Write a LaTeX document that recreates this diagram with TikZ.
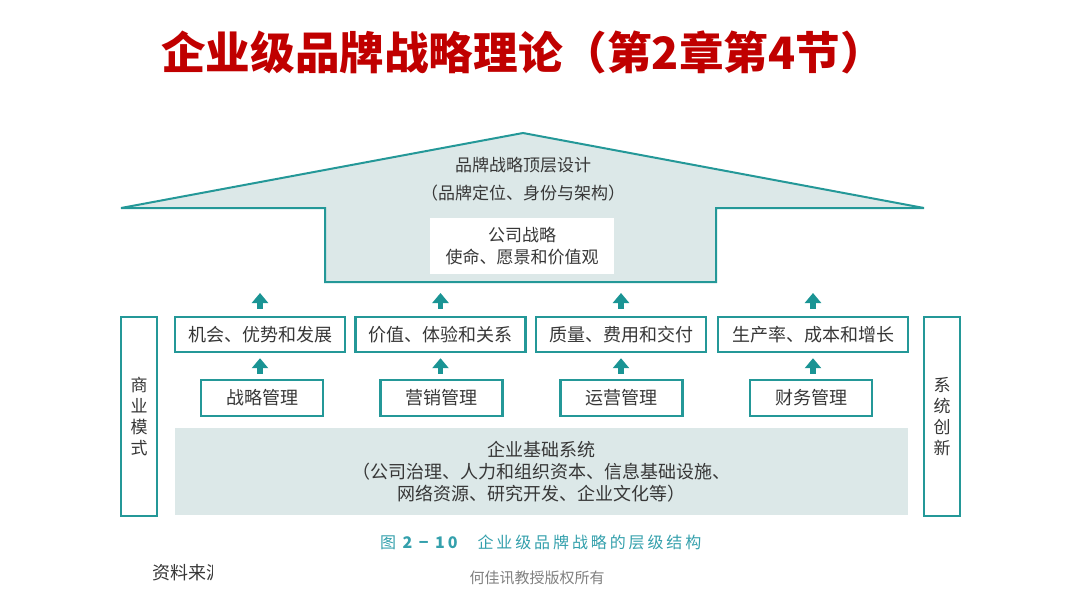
\documentclass[tikz,border=0pt]{standalone}
\usepackage{fontspec}
\setmainfont{Noto Sans CJK SC}
\newfontfamily\capfont[LetterSpace=18]{Noto Sans CJK SC}
\usetikzlibrary{arrows.meta, positioning}

\definecolor{tealline}{RGB}{36,152,152}
\definecolor{tealarrow}{RGB}{26,148,148}
\definecolor{palefill}{RGB}{220,232,232}
\definecolor{bodytext}{RGB}{55,55,55}
\definecolor{titlered}{RGB}{192,0,0}
\definecolor{captionteal}{RGB}{52,160,172}

\tikzset{
  housefill/.style={draw=tealline, fill=palefill, line width=2pt, line join=miter},
  goalbox/.style={draw=tealline, fill=white, line width=2.4pt, minimum height=35pt,
    inner sep=0pt, text=bodytext, font=\fontsize{18}{22}\selectfont},
  mgmtbox/.style={draw=tealline, fill=white, line width=2.4pt, minimum width=122pt,
    minimum height=36pt, inner sep=0pt, text=bodytext, font=\fontsize{18}{22}\selectfont},
  sidebox/.style={draw=tealline, fill=white, line width=2.4pt, minimum width=36pt,
    minimum height=199pt, inner sep=0pt, align=center, text=bodytext,
    font=\fontsize{17}{21}\selectfont},
  basebox/.style={fill=palefill, minimum width=733pt, minimum height=87pt, inner sep=0pt,
    align=center, text=bodytext, font=\fontsize{18}{22}\selectfont},
  housetext/.style={text=bodytext, font=\fontsize{17}{22}\selectfont, inner sep=0pt},
  uparrow/.style={draw=tealarrow, line width=5.5pt, -{Triangle[length=10pt, width=16pt]}},
}

\begin{document}
\begin{tikzpicture}[x=1pt, y=-1pt]
\useasboundingbox (0,0) rectangle (1080,594);

% title
\node[text=titlered, font=\fontsize{44.6}{48}\selectfont\bfseries, inner sep=0pt] (title)
  at (523,52) {企业级品牌战略理论（第2章第4节）};

% roof and stem
\draw[housefill] (121,208) -- (523,133) -- (924,208) -- (716,208) -- (716,282)
  -- (325,282) -- (325,208) -- cycle;
\coordinate (stembase) at (523,282);
\node[housetext] (roof) at (523,165) {品牌战略顶层设计};
\node[housetext] (roofsub) at (523,193) {（品牌定位、身份与架构）};
\node[fill=white, minimum width=184pt, minimum height=56pt, inner sep=0pt, align=center,
  text=bodytext, font=\fontsize{17}{22}\selectfont] (corp) at (522,246)
  {公司战略\\使命、愿景和价值观};

% goals row
\node[goalbox, minimum width=170pt] (g1) at (260,334.5) {机会、优势和发展};
\node[goalbox, minimum width=170pt] (g2) at (440.5,334.5) {价值、体验和关系};
\node[goalbox, minimum width=170pt] (g3) at (621,334.5) {质量、费用和交付};
\node[goalbox, minimum width=190pt] (g4) at (813,334.5) {生产率、成本和增长};

% management row
\node[mgmtbox] (m1) at (262,398) {战略管理};
\node[mgmtbox] (m2) at (441.5,398) {营销管理};
\node[mgmtbox] (m3) at (621.5,398) {运营管理};
\node[mgmtbox] (m4) at (811,398) {财务管理};

\foreach \i in {1,...,4} {
  \draw[uparrow, shorten <=5pt, shorten >=5pt] (m\i.north -| g\i.north) -- (g\i.south);
  \draw[uparrow, shorten <=7pt, shorten >=11pt] (g\i.north) -- (g\i.north |- stembase);
}

% foundation
\node[basebox] (base) at (541.5,471.5)
  {企业基础系统\\（公司治理、人力和组织资本、信息基础设施、\\网络资源、研究开发、企业文化等）};

% side columns
\node[sidebox] (biz) at (139,416.5) {商\\业\\模\\式};
\node[sidebox] (sys) at (942,416.5) {系\\统\\创\\新};

% caption and notes
\node[anchor=west, text=captionteal, font=\fontsize{16}{18}\selectfont\capfont, inner sep=0pt]
  (caption) at (380,542) {图 {\bfseries 2 − 10}\hspace{20pt}企业级品牌战略的层级结构};
\begin{scope}
  \clip (140,555) rectangle (212,590);
  \node[anchor=west, text=bodytext, font=\fontsize{18}{20}\selectfont, inner sep=0pt]
    (source) at (152,573) {资料来源};
\end{scope}
\node[text=black!50, font=\fontsize{15}{18}\selectfont, inner sep=0pt] (rights)
  at (537,578) {何佳讯教授版权所有};
\end{tikzpicture}
\end{document}
